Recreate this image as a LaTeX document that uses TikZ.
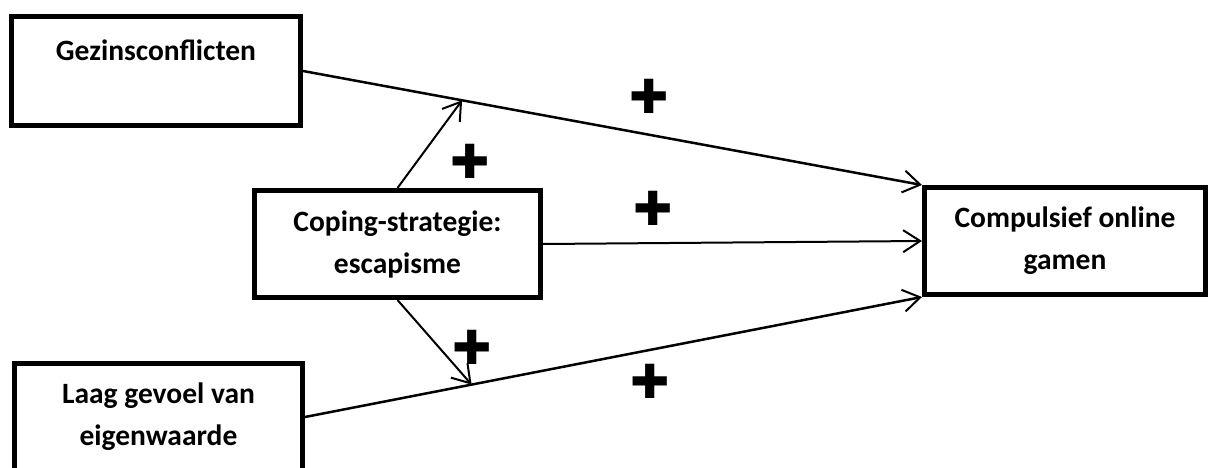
\documentclass[tikz,border=0pt]{standalone}
\usepackage{fontspec}
\setmainfont{Carlito}
\newfontfamily\crossfont{DejaVu Sans}
\usetikzlibrary{arrows.meta}
\tikzset{
  box/.style={rectangle, draw=black, line width=5pt, align=center, inner sep=0pt,
    font=\bfseries\fontsize{29.5}{42}\selectfont},
  arrow/.style={line width=2.5pt, -{Straight Barb[length=17pt, width=22pt, line width=2pt]}},
  thinarrow/.style={line width=2pt, -{Straight Barb[length=17pt, width=22pt, line width=2pt]}},
  plus/.style={inner sep=0pt, font=\crossfont\fontsize{47}{47}\selectfont}
}
\begin{document}
\begin{tikzpicture}[x=1pt, y=-1pt]
  \useasboundingbox (0,0) rectangle (1212,468);
  \node (gez) [box, minimum width=289pt, minimum height=109pt] at (156,71) {Gezinsconflicten\\\mbox{}};
  \node (cope) [box, minimum width=286pt, minimum height=107pt] at (397.5,244) {Coping-strategie:\\escapisme};
  \node (comp) [box, minimum width=281pt, minimum height=107pt] at (1065,241) {Compulsief online\\gamen};
  \node (laag) [box, minimum width=288pt, minimum height=107pt] at (158.5,417) {Laag gevoel van\\eigenwaarde};
  %lines
  \draw [arrow] (gez.east) -- coordinate[pos=0.257] (m1) node[plus, pos=0.56, yshift=38pt] {✚} (comp.north west);
  \draw [thinarrow] (cope.east) -- node[plus, pos=0.29, yshift=35pt] {✚} (comp.west);
  \draw [arrow] (laag.east) -- coordinate[pos=0.27] (m3) node[plus, pos=0.56, yshift=-32pt] {✚} (comp.south west);
  \draw [thinarrow] (cope.north) -- node[plus, xshift=40pt, yshift=-17pt] {✚} (m1);
  \draw [thinarrow] (cope.south) -- node[plus, xshift=38pt, yshift=-5pt] {✚} (m3);
\end{tikzpicture}
\end{document}
